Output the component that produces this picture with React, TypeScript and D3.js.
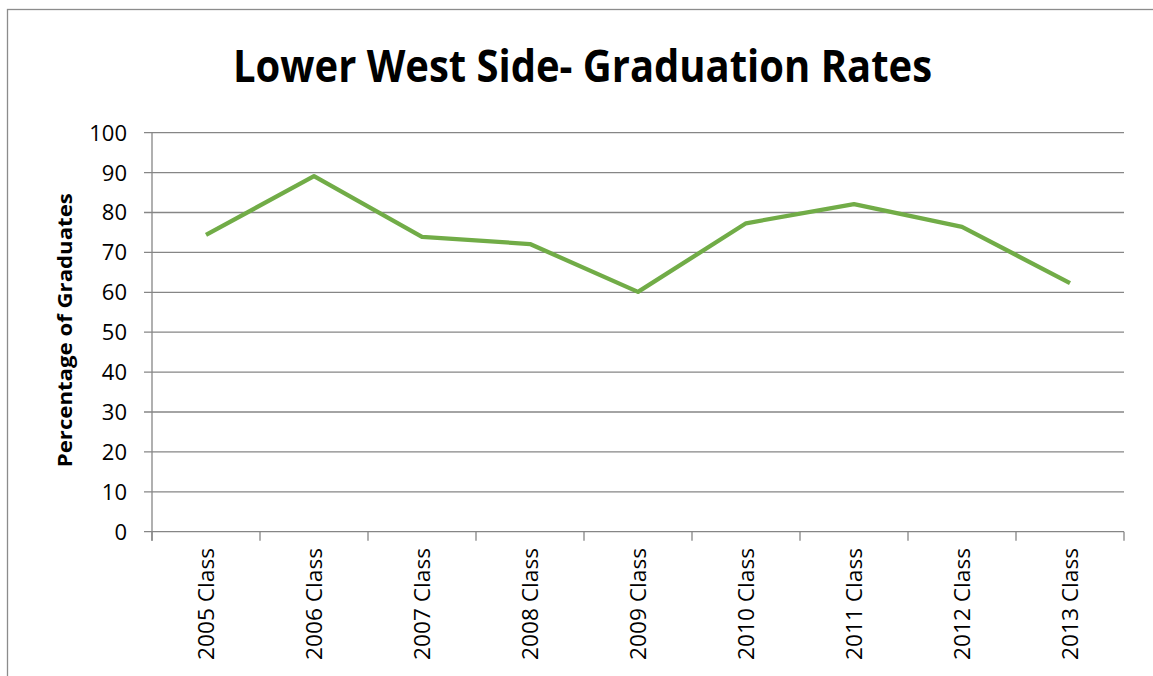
import React from "react";
import * as d3 from "d3";

const categories = ["2005 Class", "2006 Class", "2007 Class", "2008 Class", "2009 Class", "2010 Class", "2011 Class", "2012 Class", "2013 Class"];
const rates = [74.4, 89.1, 73.9, 72.1, 60.1, 77.3, 82.1, 76.4, 62.3];
const yTicks = [0, 10, 20, 30, 40, 50, 60, 70, 80, 90, 100];
const title = "Lower West Side- Graduation Rates";
const yTitle = "Percentage of Graduates";

export default function App() {
  const W = 1153, H = 676;
  const left = 152, right = 1124, top = 132.7, bottom = 531.7;
  const x = d3.scaleBand<string>().domain(categories).range([left, right]).padding(0);
  const y = d3.scaleLinear().domain([0, 100]).range([bottom, top]);
  const line = d3.line<number>()
    .x((_, i) => (x(categories[i]) as number) + x.bandwidth() / 2)
    .y((d) => y(d));
  const grid = "#868686";
  const font = "'Open Sans', sans-serif";
  const boundaries = categories.map((c) => x(c) as number).concat([right]);

  return (
    <svg width={W} height={H} style={{ position: "absolute", left: 0, top: 0, background: "#fff" }}>
      <rect x={0} y={0} width={W} height={H} fill="#fff" />
      <rect x={7.5} y={9.5} width={1200} height={700} fill="none" stroke="#8c8c8c" strokeWidth={1.3} />
      <text x={582.5} y={82} textAnchor="middle" fontFamily={font} fontWeight="bold" fontSize={44}
        textLength={699} lengthAdjust="spacingAndGlyphs" fill="#000">{title}</text>
      {yTicks.map((t) => (
        <g key={t}>
          <line x1={left - 8} x2={right} y1={y(t)} y2={y(t)} stroke={grid} strokeWidth={1.3} />
          <text x={127} y={y(t)} dy="0.36em" textAnchor="end" fontFamily={font} fontSize={22} fill="#000">{t}</text>
        </g>
      ))}
      <line x1={left} x2={left} y1={top} y2={bottom + 9} stroke={grid} strokeWidth={1.3} />
      {boundaries.map((bx, i) => (
        <line key={i} x1={bx} x2={bx} y1={bottom} y2={bottom + 9} stroke={grid} strokeWidth={1.3} />
      ))}
      {categories.map((c) => {
        const cx = (x(c) as number) + x.bandwidth() / 2;
        return (
          <text key={c} transform={`translate(${cx + 8},548) rotate(-90)`} textAnchor="end"
            fontFamily={font} fontSize={22} fill="#000" textLength={112} lengthAdjust="spacingAndGlyphs">{c}</text>
        );
      })}
      <text transform={`translate(72,${(top + bottom) / 2 - 2}) rotate(-90)`} textAnchor="middle"
        fontFamily={font} fontWeight="bold" fontSize={20} fill="#000" textLength={274} lengthAdjust="spacingAndGlyphs">{yTitle}</text>
      <path d={line(rates) || ""} fill="none" stroke="#71ac47" strokeWidth={4.3} strokeLinejoin="round" />
    </svg>
  );
}
